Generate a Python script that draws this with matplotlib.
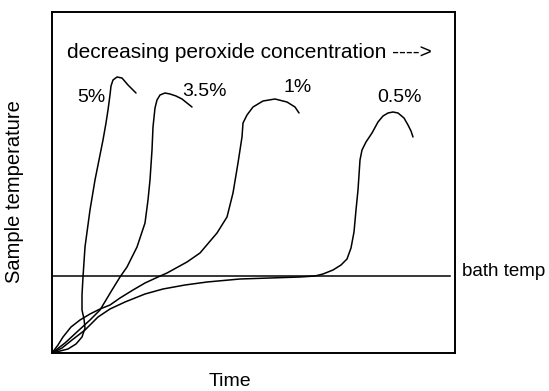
import matplotlib
matplotlib.use("Agg")
import matplotlib.pyplot as plt

plt.rcParams['font.family'] = ['Liberation Sans', 'DejaVu Sans']

# Sketch data (arbitrary time / temperature units)
t_5 = [0, 8, 16, 24, 30, 33, 32, 30, 30, 31, 33, 38, 43, 47, 51, 54, 56, 58, 59, 61, 65, 70, 76, 80, 84]
T_5 = [0, 2, 4, 9, 16, 25, 34, 43, 58, 76, 106, 143, 173, 193, 213, 230, 243, 258, 267, 273, 276, 275, 268, 264, 260]

t_35 = [0, 13, 26, 38, 48, 54, 60, 68, 75, 85, 93, 96, 98, 100, 101, 103, 105, 108, 113, 118, 124, 130, 135, 140]
T_35 = [0, 10, 22, 33, 43, 53, 63, 76, 86, 106, 130, 153, 173, 203, 226, 245, 253, 258, 260, 259, 257, 254, 250, 246]

t_1 = [0, 6, 11, 19, 28, 38, 48, 58, 68, 81, 93, 106, 115, 135, 148, 165, 175, 181, 186, 190, 191, 195, 201, 211, 223, 235, 243, 247]
T_1 = [0, 8, 16, 26, 33, 39, 44, 48, 55, 63, 70, 76, 80, 91, 100, 120, 136, 160, 190, 216, 230, 238, 246, 252, 254, 251, 246, 240]

t_05 = [0, 10, 20, 33, 46, 58, 73, 93, 111, 133, 155, 188, 218, 248, 263, 271, 281, 289, 295, 299, 302, 304, 306, 308, 310, 314, 320, 326, 331, 336, 341, 346, 352, 356, 359, 361]
T_05 = [0, 5, 13, 23, 36, 44, 51, 59, 64, 68, 71, 74, 75, 76, 77, 79, 83, 88, 94, 105, 121, 143, 163, 193, 203, 211, 220, 231, 237, 240, 241, 240, 235, 228, 222, 216]

bath_t = [1, 398]
bath_T = 77

series_labels = ["5%", "3.5%", "1%", "0.5%"]
label_pos = [(39.5, 256), (152, 261), (246, 265), (348, 256)]

W, H = 549, 391
fig = plt.figure(figsize=(W / 100, H / 100), dpi=100)
ax = fig.add_axes([52 / W, 1 - 353 / H, (455 - 52) / W, (353 - 12) / H])
ax.set_xlim(0, 403)
ax.set_ylim(0, 341)
ax.set_xticks([])
ax.set_yticks([])
for s in ax.spines.values():
    s.set_linewidth(1.4)
    s.set_color('black')

lw = 1.1
for tx, ty in [(t_5, T_5), (t_35, T_35), (t_1, T_1), (t_05, T_05)]:
    ax.plot(tx, ty, color='black', lw=lw, solid_capstyle='round')
ax.plot(bath_t, [bath_T, bath_T], color='black', lw=lw)

fs = 14
for lab, (x, y) in zip(series_labels, label_pos):
    ax.text(x, y, lab, fontsize=fs, ha='center', va='center')

ax.text(15, 301, "decreasing peroxide concentration ---->", fontsize=15, ha='left', va='center')
ax.text(410, 81, "bath temp", fontsize=13.5, ha='left', va='center', clip_on=False)

fig.text(15 / W, 1 - 192 / H, "Sample temperature", fontsize=14.5, rotation=90, ha='center', va='center')
fig.text(230 / W, 1 - 381 / H, "Time", fontsize=fs, ha='center', va='center')

fig.savefig("out.png", dpi=100)
